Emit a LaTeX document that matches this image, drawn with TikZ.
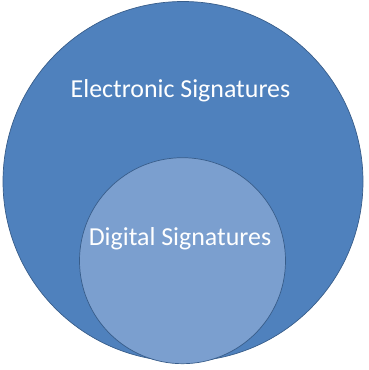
\documentclass[tikz,border=0pt]{standalone}
\usepackage{fontspec}
\setmainfont{Carlito}
\definecolor{outerfill}{HTML}{4F81BD}
\definecolor{innerfill}{HTML}{7B9FCF}
\definecolor{rim}{HTML}{385D8A}
\begin{document}
\begin{tikzpicture}[x=1pt,y=1pt,
  setcircle/.style={circle,draw=rim,line width=0.7pt,inner sep=0pt},
  setlabel/.style={text=white,font=\fontsize{25.9}{29}\selectfont,inner sep=0pt}]
\useasboundingbox (0,0) rectangle (369,370);
\node[setcircle,fill=outerfill,minimum size=360] (outer) at (183,188.5) {};
\node[setcircle,fill=innerfill,minimum size=206] (inner) at (182.5,109.3) {};
\node[setlabel,anchor=base] (etext) at (180.5,272) {Electronic Signatures};
\node[setlabel,anchor=base] (dtext) at (180,124.3) {Digital Signatures};
\end{tikzpicture}
\end{document}
